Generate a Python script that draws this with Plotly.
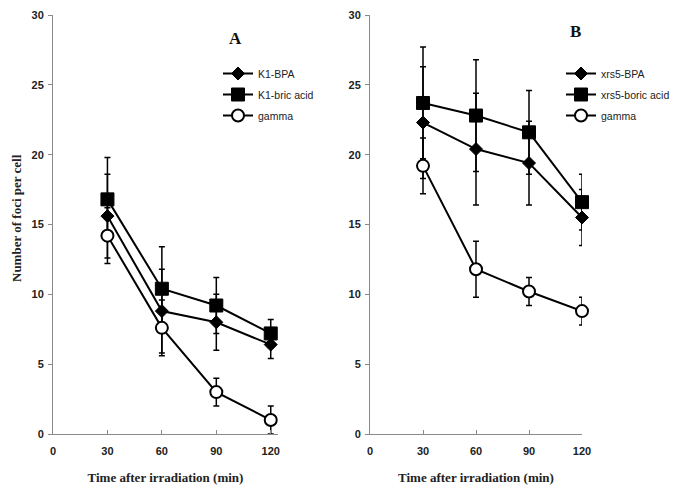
import plotly.graph_objects as go

# ---- data ----
times = [30, 60, 90, 120]
x_tick_vals = [0, 30, 60, 90, 120]
y_tick_vals = [0, 5, 10, 15, 20, 25, 30]

names_a = ["K1-BPA", "K1-bric acid", "gamma"]
k1_bpa = [15.6, 8.8, 8.0, 6.4]
k1_bpa_err = [3.0, 3.0, 2.0, 1.0]
k1_boric = [16.8, 10.4, 9.2, 7.2]
k1_boric_err = [3.0, 3.0, 2.0, 1.0]
gamma_a = [14.2, 7.6, 3.0, 1.0]
gamma_a_err = [2.0, 2.0, 1.0, 1.0]

names_b = ["xrs5-BPA", "xrs5-boric acid", "gamma"]
xrs5_bpa = [22.3, 20.4, 19.4, 15.5]
xrs5_bpa_err = [4.0, 4.0, 3.0, 2.0]
xrs5_boric = [23.7, 22.8, 21.6, 16.6]
xrs5_boric_err = [4.0, 4.0, 3.0, 2.0]
gamma_b = [19.2, 11.8, 10.2, 8.8]
gamma_b_err = [2.0, 2.0, 1.0, 1.0]

W, H = 685, 492
OFF = 8  # default page body margin

def px_x(p):
    return (p - OFF) / W

def px_y(p):
    return 1 - (p - OFF) / H

styles = [
    dict(symbol="diamond", size=10, color="black", line=dict(color="black", width=1)),
    dict(symbol="square", size=13, color="black", line=dict(color="black", width=1)),
    dict(symbol="circle", size=12, color="white", line=dict(color="black", width=2)),
]

fig = go.Figure()

panel_a = [(k1_bpa, k1_bpa_err), (k1_boric, k1_boric_err), (gamma_a, gamma_a_err)]
panel_b = [(xrs5_bpa, xrs5_bpa_err), (xrs5_boric, xrs5_boric_err), (gamma_b, gamma_b_err)]

for i, ((vals, errs), name) in enumerate(zip(panel_a, names_a)):
    fig.add_trace(go.Scatter(
        x=times, y=vals, name=name, mode="lines+markers", cliponaxis=False,
        line=dict(color="black", width=2), marker=styles[i],
        error_y=dict(type="data", array=errs, visible=True, color="black", thickness=1.5, width=3),
        xaxis="x", yaxis="y", legend="legend", legendgroup="a%d" % i,
    ))

for i, ((vals, errs), name) in enumerate(zip(panel_b, names_b)):
    fig.add_trace(go.Scatter(
        x=times, y=vals, name=name, mode="lines+markers", cliponaxis=False,
        line=dict(color="black", width=2), marker=styles[i],
        error_y=dict(type="data", array=errs, visible=True, color="black", thickness=1.5, width=3),
        xaxis="x2", yaxis="y2", legend="legend2", legendgroup="b%d" % i,
    ))

tick_font = dict(family="Liberation Sans", size=11, color="#222", weight="bold")
axis_common = dict(showgrid=False, zeroline=False, showline=True, linecolor="#8a8a8a",
                   linewidth=1, tickcolor="#8a8a8a", tickfont=tick_font, ticklen=4,
                   automargin=False)

title_font = dict(family="Liberation Serif", size=13, color="#222", weight="bold")
legend_font = dict(family="Liberation Sans", size=10.5, color="#222")

fig.update_layout(
    width=W, height=H, autosize=False,
    margin=dict(l=0, r=0, t=0, b=0, autoexpand=False),
    paper_bgcolor="white", plot_bgcolor="white",
    xaxis=dict(domain=[px_x(53), px_x(278)], range=[0, 124], tickvals=x_tick_vals,
               ticks="inside", anchor="y", ticklabelstandoff=7, **axis_common,
               title=dict(text="Time after irradiation (min)", font=title_font, standoff=16)),
    yaxis=dict(domain=[px_y(434), px_y(15)], range=[0, 30], tickvals=y_tick_vals,
               ticks="outside", anchor="x", ticklabelstandoff=2, **axis_common),
    xaxis2=dict(domain=[px_x(370), px_x(582)], range=[0, 120], tickvals=x_tick_vals,
                ticks="inside", anchor="y2", ticklabelstandoff=7, **axis_common,
                title=dict(text="Time after irradiation (min)", font=title_font, standoff=16)),
    yaxis2=dict(domain=[px_y(434), px_y(15)], range=[0, 30], tickvals=y_tick_vals,
                ticks="outside", anchor="x2", ticklabelstandoff=2, **axis_common),
    legend=dict(x=px_x(218), y=px_y(59), xanchor="left", yanchor="top",
                font=legend_font, bgcolor="rgba(0,0,0,0)", traceorder="grouped",
                tracegroupgap=2, itemwidth=30),
    legend2=dict(x=px_x(561), y=px_y(59), xanchor="left", yanchor="top",
                 font=legend_font, bgcolor="rgba(0,0,0,0)", traceorder="grouped",
                 tracegroupgap=2, itemwidth=30),
    showlegend=True,
    annotations=[
        dict(text="A", x=px_x(235), y=px_y(38), xref="paper", yref="paper", showarrow=False,
             xanchor="center", yanchor="middle",
             font=dict(family="Liberation Serif", size=17, color="#111", weight="bold")),
        dict(text="B", x=px_x(575), y=px_y(31), xref="paper", yref="paper", showarrow=False,
             xanchor="center", yanchor="middle",
             font=dict(family="Liberation Serif", size=17, color="#111", weight="bold")),
        dict(text="Number of foci per cell", x=px_x(17), y=px_y(218), xref="paper", yref="paper",
             showarrow=False, textangle=-90, xanchor="center", yanchor="middle", font=title_font),
    ],
)

fig.write_html("out.html")
